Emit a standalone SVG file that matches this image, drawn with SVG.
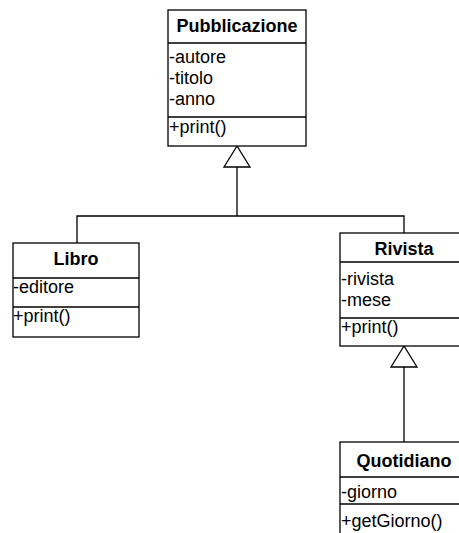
<svg xmlns="http://www.w3.org/2000/svg" width="459" height="533" viewBox="0 0 459 533">
<style>
.box{fill:#fff;stroke:#000;stroke-width:1.3}
.sep{stroke:#000;stroke-width:1.3}
.t{font-family:"Liberation Sans",Arial,sans-serif;font-weight:bold;font-size:18px;text-anchor:middle;fill:#000}
.m{font-family:"Liberation Sans",Arial,sans-serif;font-size:18px;fill:#000}
.c{fill:none;stroke:#000;stroke-width:1.3}
.tri{fill:#fff;stroke:#000;stroke-width:1.3}
</style>
<rect width="459" height="533" fill="#fff"/>
<g id="connectors">
<polyline class="c" points="77,243 77,216 404,216 404,233"/>
<line class="c" x1="237" y1="167" x2="237" y2="216"/>
<polygon class="tri" points="237,146 224,167 250,167"/>
<line class="c" x1="404" y1="367" x2="404" y2="442"/>
<polygon class="tri" points="404,346 391,367 417,367"/>
</g>
<g id="Pubblicazione">
<rect class="box" x="168" y="10" width="138" height="136"/>
<line class="sep" x1="168" y1="43" x2="306" y2="43"/>
<line class="sep" x1="168" y1="117" x2="306" y2="117"/>
<text class="t" x="237" y="32">Pubblicazione</text>
<text class="m" x="169" y="63">-autore</text>
<text class="m" x="169" y="84">-titolo</text>
<text class="m" x="169" y="105">-anno</text>
<text class="m" x="169" y="133">+print()</text>
</g>
<g id="Libro">
<rect class="box" x="13" y="243" width="126" height="94"/>
<line class="sep" x1="13" y1="278" x2="139" y2="278"/>
<line class="sep" x1="13" y1="307" x2="139" y2="307"/>
<text class="t" x="76" y="265">Libro</text>
<text class="m" x="13" y="293">-editore</text>
<text class="m" x="13" y="322">+print()</text>
</g>
<g id="Rivista">
<rect class="box" x="340" y="233" width="128" height="113"/>
<line class="sep" x1="340" y1="262" x2="468" y2="262"/>
<line class="sep" x1="340" y1="318" x2="468" y2="318"/>
<text class="t" x="404" y="255">Rivista</text>
<text class="m" x="341" y="285">-rivista</text>
<text class="m" x="341" y="306">-mese</text>
<text class="m" x="341" y="333">+print()</text>
</g>
<g id="Quotidiano">
<rect class="box" x="340" y="442" width="128" height="100"/>
<line class="sep" x1="340" y1="477" x2="468" y2="477"/>
<line class="sep" x1="340" y1="504" x2="468" y2="504"/>
<text class="t" x="404" y="467">Quotidiano</text>
<text class="m" x="341" y="498">-giorno</text>
<text class="m" x="341" y="527">+getGiorno()</text>
</g>
</svg>
